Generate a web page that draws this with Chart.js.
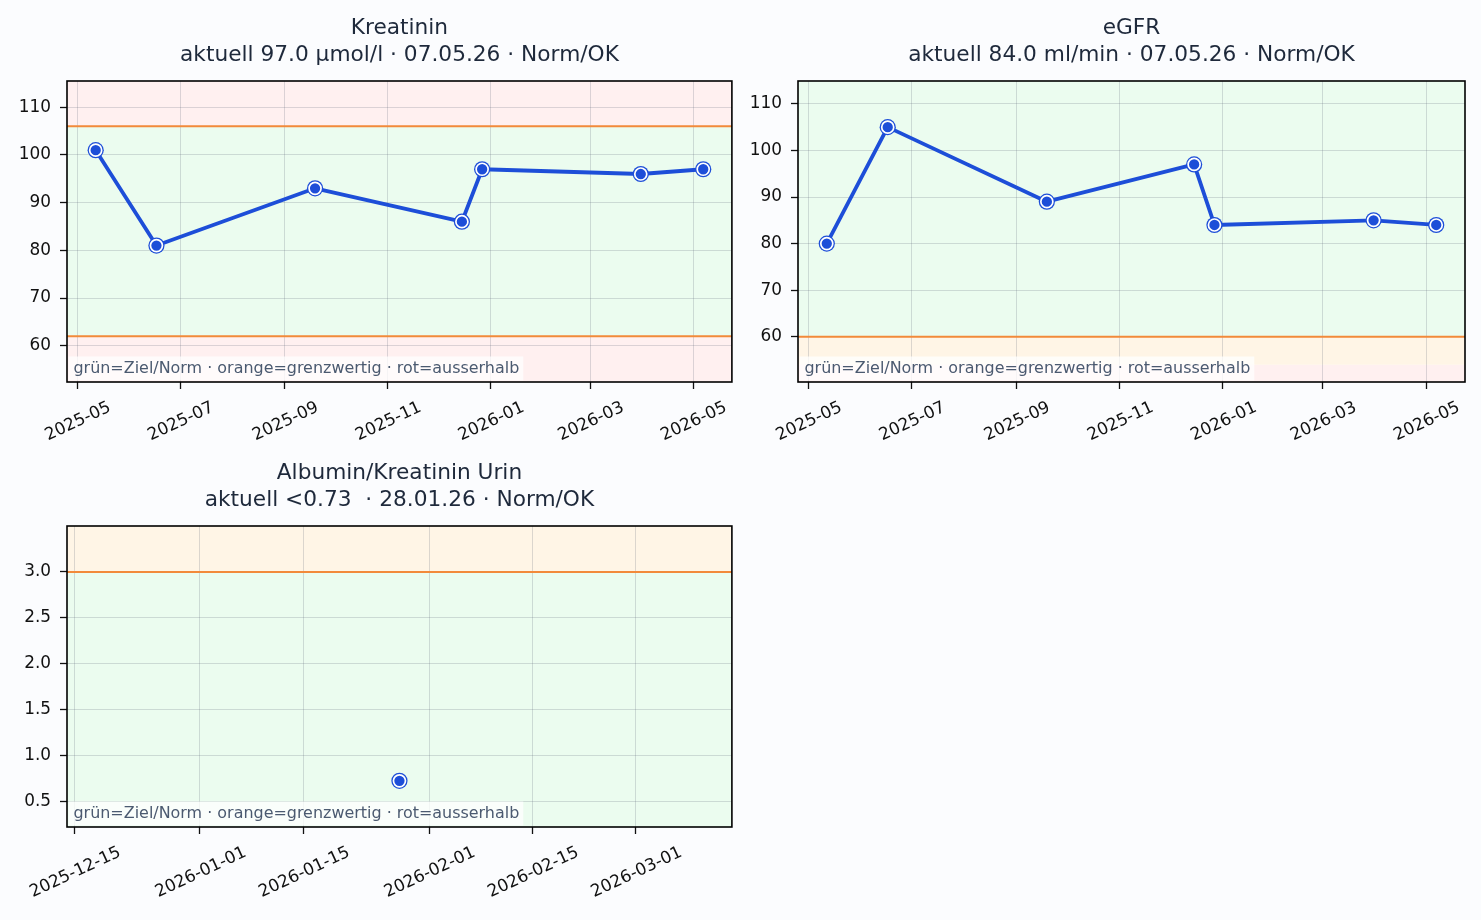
<!DOCTYPE html>
<html lang="de">
<head>
<meta charset="UTF-8">
<title>Nierenwerte</title>
<script src="https://cdn.jsdelivr.net/npm/chart.js"></script>
<style>
  body { margin: 0; background: #fbfcfe; }
  canvas { position: absolute; }
</style>
</head>
<body>
<canvas id="krea" width="740" height="450" style="left:0;top:0"></canvas>
<canvas id="egfr" width="741" height="450" style="left:740px;top:0"></canvas>
<canvas id="acr" width="740" height="470" style="left:0;top:450px"></canvas>

<script>
// --- data ---
const kreaDates = ['2025-05-12', '2025-06-17', '2025-09-19', '2025-12-15', '2025-12-27', '2026-03-31', '2026-05-07'];
const kreaValues = [101, 81, 93, 86, 97, 96, 97];
const egfrDates = ['2025-05-12', '2025-06-17', '2025-09-19', '2025-12-15', '2025-12-27', '2026-03-31', '2026-05-07'];
const egfrValues = [80, 105, 89, 97, 84, 85, 84];
const acrDates = ['2026-01-28'];
const acrValues = [0.73];

const monthTicks = ['2025-05-01', '2025-07-01', '2025-09-01', '2025-11-01', '2026-01-01', '2026-03-01', '2026-05-01'];
const monthTickLabels = ['2025-05', '2025-07', '2025-09', '2025-11', '2026-01', '2026-03', '2026-05'];
const acrTicks = ['2025-12-15', '2026-01-01', '2026-01-15', '2026-02-01', '2026-02-15', '2026-03-01'];
const acrTickLabels = ['2025-12-15', '2026-01-01', '2026-01-15', '2026-02-01', '2026-02-15', '2026-03-01'];

const kreaYTicks = [60, 70, 80, 90, 100, 110];
const egfrYTicks = [60, 70, 80, 90, 100, 110];
const acrYTicks = [0.5, 1.0, 1.5, 2.0, 2.5, 3.0];

const monthRange = ['2025-04-25', '2026-05-24'];
const acrRange = ['2025-12-14', '2026-03-14'];
const kreaYRange = [52.4, 115.5];
const egfrYRange = [50.3, 114.9];
const acrYRange = [0.228, 3.5];

// zones: [from, to, zone]  (null = axis end)
const kreaZones = [[null, 62, 'red'], [62, 106, 'green'], [106, null, 'red']];
const kreaLimits = [62, 106];
const egfrZones = [[null, 54, 'red'], [54, 60, 'orange'], [60, null, 'green']];
const egfrLimits = [60];
const acrZones = [[null, 3, 'green'], [3, null, 'orange']];
const acrLimits = [3];

const zoneColors = { green: '#ebfcef', orange: '#fff5e6', red: '#fff0f0' };
const noteText = 'grün=Ziel/Norm · orange=grenzwertig · rot=ausserhalb';

const day = s => Date.parse(s) / 86400000;
const FONT = '"DejaVu Sans", sans-serif';
const gridColor = 'rgba(90,100,120,0.22)';

const panelPlugin = {
  id: 'panel',
  beforeDraw(chart, args, o) {
    const { ctx, chartArea: a, scales: { y } } = chart;
    ctx.save();
    o.zones.forEach(([lo, hi, zone]) => {
      const yb = lo === null ? a.bottom : Math.min(a.bottom, y.getPixelForValue(lo));
      const yt = hi === null ? a.top : Math.max(a.top, y.getPixelForValue(hi));
      ctx.fillStyle = zoneColors[zone];
      ctx.fillRect(a.left, yt, a.width, yb - yt);
    });
    ctx.restore();
  },
  beforeDatasetsDraw(chart, args, o) {
    const { ctx, chartArea: a, scales: { y } } = chart;
    ctx.save();
    ctx.strokeStyle = '#f28a3a';
    ctx.lineWidth = 2;
    o.limits.forEach(v => {
      const py = y.getPixelForValue(v);
      ctx.beginPath();
      ctx.moveTo(a.left, py);
      ctx.lineTo(a.right, py);
      ctx.stroke();
    });
    ctx.restore();
  },
  afterDraw(chart, args, o) {
    const { ctx, chartArea: a, scales: { x } } = chart;
    ctx.save();

    // note box
    ctx.font = '15.95px ' + FONT;
    const tw = ctx.measureText(noteText).width;
    ctx.fillStyle = 'rgba(255,255,255,0.75)';
    ctx.fillRect(a.left + 1.5, a.bottom - 25.5, tw + 9, 24);
    ctx.fillStyle = '#4b5a70';
    ctx.textAlign = 'left';
    ctx.textBaseline = 'alphabetic';
    ctx.fillText(noteText, a.left + 6.5, a.bottom - 9);

    // frame
    ctx.strokeStyle = '#000';
    ctx.lineWidth = 1.6;
    ctx.strokeRect(a.left, a.top, a.width, a.height);

    // rotated x labels, centred under the tick
    ctx.font = '16.9px ' + FONT;
    ctx.fillStyle = '#111';
    ctx.textAlign = 'center';
    const capH = ctx.measureText('2').actualBoundingBoxAscent;
    const ang = 25 * Math.PI / 180;
    o.xTicks.forEach((t, i) => {
      const label = o.xLabels[i];
      const w = ctx.measureText(label).width;
      const h = w * Math.sin(ang) + capH * Math.cos(ang);
      const px = x.getPixelForValue(day(t));
      ctx.save();
      ctx.translate(px, a.bottom + 17 + h / 2);
      ctx.rotate(-ang);
      ctx.fillText(label, 0, capH / 2);
      ctx.restore();
    });

    // title
    ctx.fillStyle = '#1e293b';
    ctx.font = '21.7px ' + FONT;
    const cx = (a.left + a.right) / 2;
    ctx.fillText(o.title, cx, a.top - 47);
    ctx.fillText(o.subtitle, cx, a.top - 19.7);
    ctx.restore();
  }
};

function makePanel(id, p) {
  const pts = p.dates.map((d, i) => ({ x: day(d), y: p.values[i] }));
  return new Chart(document.getElementById(id), {
    type: 'line',
    data: {
      datasets: [{
        data: pts,
        order: 0,
        borderColor: '#1d4ed8',
        borderWidth: 3.8,
        borderJoinStyle: 'round',
        borderCapStyle: 'round',
        tension: 0,
        pointRadius: 6,
        pointBackgroundColor: '#1d4ed8',
        pointBorderColor: '#ffffff',
        pointBorderWidth: 1.7
      }, {
        data: pts,
        order: 1,
        showLine: false,
        pointRadius: 8.1,
        pointBackgroundColor: '#1d4ed8',
        pointBorderWidth: 0
      }]
    },
    options: {
      responsive: false,
      animation: false,
      events: [],
      layout: { padding: { top: p.top, right: p.right, left: 0, bottom: 0 } },
      scales: {
        x: {
          type: 'linear',
          min: day(p.xRange[0]),
          max: day(p.xRange[1]),
          afterBuildTicks: s => { s.ticks = p.xTicks.map(t => ({ value: day(t) })); },
          afterFit: s => { s.height = p.xAxisHeight; },
          border: { display: false },
          grid: { color: gridColor, lineWidth: 1, tickLength: 7, tickColor: '#111', tickWidth: 1.3 },
          ticks: { display: false }
        },
        y: {
          min: p.yRange[0],
          max: p.yRange[1],
          afterBuildTicks: s => { s.ticks = p.yTicks.map(v => ({ value: v })); },
          afterFit: s => { s.width = p.axisWidth; },
          border: { display: false },
          grid: { color: gridColor, lineWidth: 1, tickLength: 7, tickColor: '#111', tickWidth: 1.3 },
          ticks: {
            autoSkip: false,
            padding: 9,
            color: '#111',
            font: { family: FONT, size: 16.9 },
            callback: v => p.yDigits ? v.toFixed(p.yDigits) : String(v)
          }
        }
      },
      plugins: {
        legend: { display: false },
        tooltip: { enabled: false },
        panel: {
          zones: p.zones, limits: p.limits,
          xTicks: p.xTicks, xLabels: p.xLabels,
          title: p.title, subtitle: p.subtitle
        }
      }
    },
    plugins: [panelPlugin]
  });
}

makePanel('krea', {
  dates: kreaDates, values: kreaValues,
  xRange: monthRange, xTicks: monthTicks, xLabels: monthTickLabels,
  yRange: kreaYRange, yTicks: kreaYTicks, yDigits: 0,
  zones: kreaZones, limits: kreaLimits,
  title: 'Kreatinin', subtitle: 'aktuell 97.0 µmol/l · 07.05.26 · Norm/OK',
  top: 81, right: 6, axisWidth: 67, xAxisHeight: 68
});

makePanel('egfr', {
  dates: egfrDates, values: egfrValues,
  xRange: monthRange, xTicks: monthTicks, xLabels: monthTickLabels,
  yRange: egfrYRange, yTicks: egfrYTicks, yDigits: 0,
  zones: egfrZones, limits: egfrLimits,
  title: 'eGFR', subtitle: 'aktuell 84.0 ml/min · 07.05.26 · Norm/OK',
  top: 81, right: 16, axisWidth: 58, xAxisHeight: 68
});

makePanel('acr', {
  dates: acrDates, values: acrValues,
  xRange: acrRange, xTicks: acrTicks, xLabels: acrTickLabels,
  yRange: acrYRange, yTicks: acrYTicks, yDigits: 1,
  zones: acrZones, limits: acrLimits,
  title: 'Albumin/Kreatinin Urin', subtitle: 'aktuell <0.73  · 28.01.26 · Norm/OK',
  top: 76, right: 6, axisWidth: 67, xAxisHeight: 93
});
</script>
</body>
</html>
